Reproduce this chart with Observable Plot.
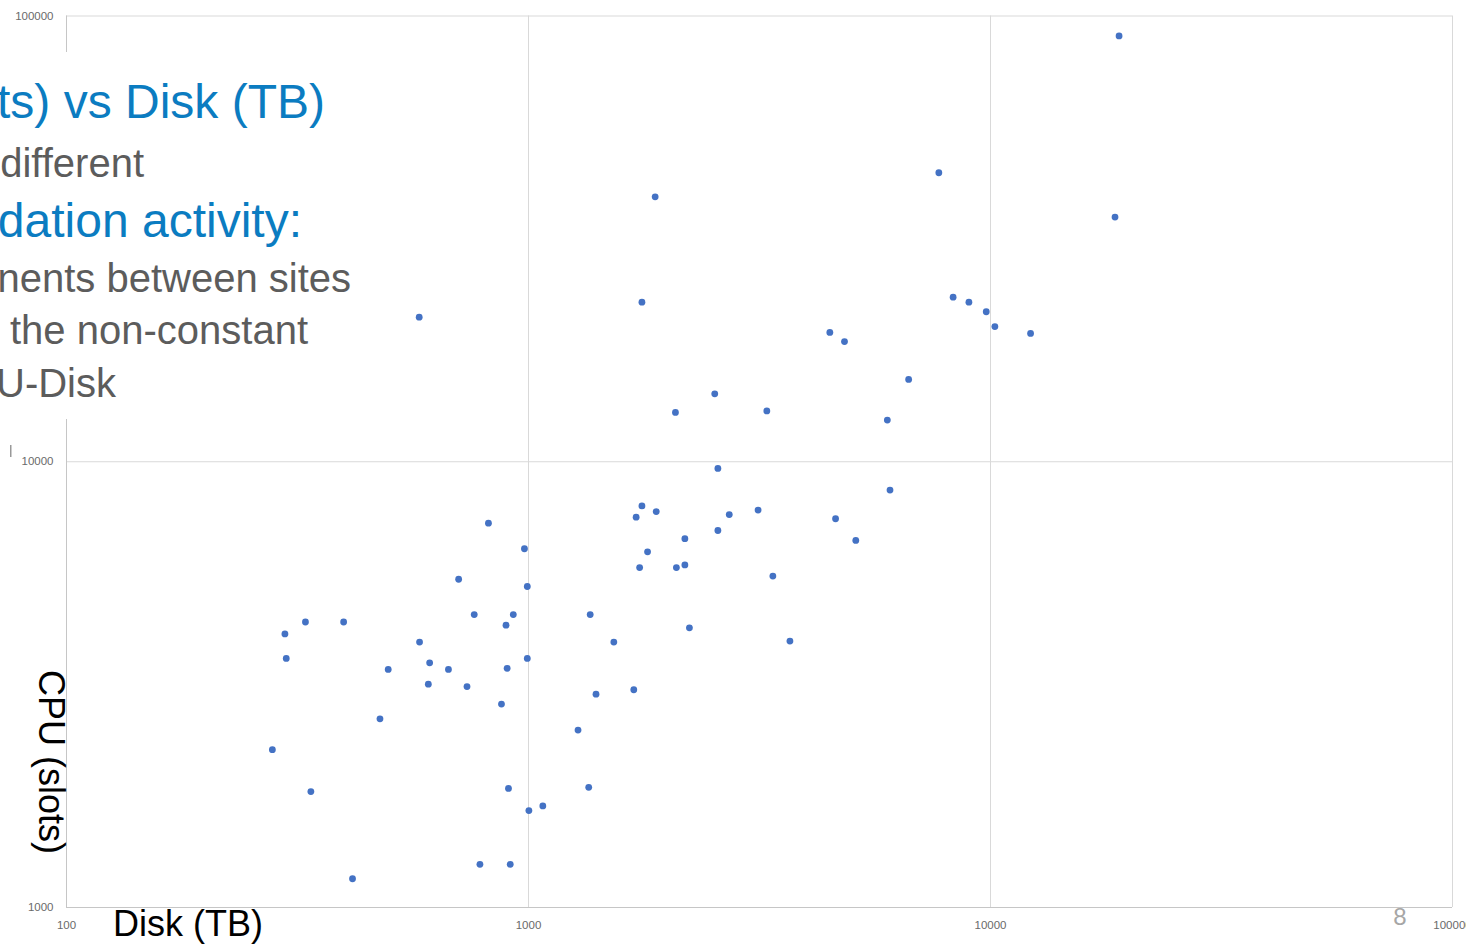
<!DOCTYPE html>
<html>
<head>
<meta charset="utf-8">
<script src="https://cdn.jsdelivr.net/npm/d3@7"></script>
<script src="https://cdn.jsdelivr.net/npm/@observablehq/plot@0.6"></script>
<style>
  html, body { margin: 0; padding: 0; background: #fff; }
  #wrap { position: relative; width: 1466px; height: 945px; overflow: hidden; background: #fff; }
</style>
</head>
<body>
<div id="wrap"></div>
<script>
// Disk (TB) per site
const disk = [18980, 7730, 18600, 1880, 1760, 8300, 8980, 9790, 10220, 12210,
  4490, 4830, 580, 6650, 2530, 3280, 2080, 5980, 2570, 6060,
  1760, 1710, 1890, 3140, 2720, 2570, 4620, 819, 2180, 5110,
  980, 1810, 1740, 2090, 2180, 3380, 706, 994, 763, 927,
  1360, 329, 398, 297, 894, 2230, 581, 1530, 3680, 299,
  994, 611, 497, 671, 899, 607, 736, 1690, 1400, 874,
  477, 1280, 279, 338, 905, 1350, 1074, 1002, 785, 913, 416];
// CPU (slots) per site
const cpu = [90230, 44500, 35400, 39300, 22800, 23400, 22800, 21700, 20100, 19400,
  19500, 18600, 21100, 15300, 14200, 13000, 12900, 12400, 9660, 8640,
  7960, 7510, 7730, 7790, 7610, 7010, 7450, 7280, 6720, 6660,
  6380, 6280, 5790, 5790, 5870, 5540, 5450, 5250, 4540, 4540,
  4540, 4370, 4370, 4110, 4300, 4240, 3940, 3940, 3960, 3620,
  3620, 3540, 3420, 3420, 3440, 3170, 3130, 3080, 3010, 2860,
  2650, 2500, 2260, 1820, 1850, 1860, 1690, 1650, 1250, 1250, 1160];
const xTicks = [100, 1000, 10000, 100000];
const yTicks = [1000, 10000, 100000];

const data = disk.map((d, i) => ({disk: d, cpu: cpu[i]}));

const chart = Plot.plot({
  width: 1466,
  height: 945,
  marginLeft: 66,
  marginRight: 14,
  marginTop: 15.5,
  marginBottom: 38,
  style: {fontFamily: "Liberation Sans, Arial, sans-serif", background: "#fff", overflow: "hidden"},
  x: {type: "log", domain: [100, 100000]},
  y: {type: "log", domain: [1000, 100000]},
  marks: [
    Plot.gridX(xTicks.slice(1), {stroke: "#d9d9d9", strokeOpacity: 1}),
    Plot.gridY(yTicks.slice(1), {stroke: "#d9d9d9", strokeOpacity: 1}),
    Plot.ruleX([100], {stroke: "#c6c6c6"}),
    Plot.ruleY([1000], {stroke: "#c6c6c6"}),
    Plot.axisX(xTicks, {tickSize: 0, tickPadding: 13, tickFormat: d => String(d), fontSize: 11.5, color: "#6a6a6a", label: null}),
    Plot.axisY(yTicks, {tickSize: 0, tickPadding: 13, tickFormat: d => String(d), fontSize: 11.5, color: "#6a6a6a", label: null}),
    Plot.dot(data, {x: "disk", y: "cpu", r: 3.4, fill: "#4472c4", stroke: null})
  ]
});
document.getElementById("wrap").appendChild(chart);

// slide overlay (text box covering part of the chart, and slide labels)
const FONT = "Liberation Sans, Arial, sans-serif";
const svg = d3.select(chart);
const g = svg.append("g").attr("text-anchor", "start");
g.append("rect").attr("x", 0).attr("y", 52).attr("width", 405).attr("height", 367).attr("fill", "#fff");
const lines = [
  {t: "ts) vs Disk (TB)", x: 325, y: 118, size: 48, fill: "#0b7cc1"},
  {t: "different", x: 144, y: 177, size: 40, fill: "#5c5c5c"},
  {t: "dation activity:", x: 302, y: 237, size: 48, fill: "#0b7cc1"},
  {t: "nents between sites", x: 351, y: 292, size: 40, fill: "#5c5c5c"},
  {t: "the non-constant", x: 308, y: 344, size: 40, fill: "#5c5c5c"},
  {t: "U-Disk", x: 116, y: 397, size: 40, fill: "#5c5c5c"}
];
for (const l of lines) {
  g.append("text").attr("x", l.x).attr("y", l.y).attr("text-anchor", "end")
    .attr("font-family", FONT)
    .attr("font-size", l.size).attr("fill", l.fill).text(l.t);
}
g.append("rect").attr("x", 10).attr("y", 445).attr("width", 1.5).attr("height", 12).attr("fill", "#999");
g.append("text").attr("transform", "translate(39,762) rotate(90)").attr("text-anchor", "middle")
  .attr("font-family", FONT).attr("font-size", 36).attr("fill", "#000")
  .text("CPU (slots)");
g.append("text").attr("x", 113).attr("y", 936).attr("text-anchor", "start").attr("font-family", FONT)
  .attr("font-size", 36).attr("fill", "#000").text("Disk (TB)");
g.append("text").attr("x", 1400).attr("y", 925).attr("text-anchor", "middle")
  .attr("font-family", FONT).attr("font-size", 24).attr("fill", "#a6a6a6")
  .text("8");
</script>
</body>
</html>
